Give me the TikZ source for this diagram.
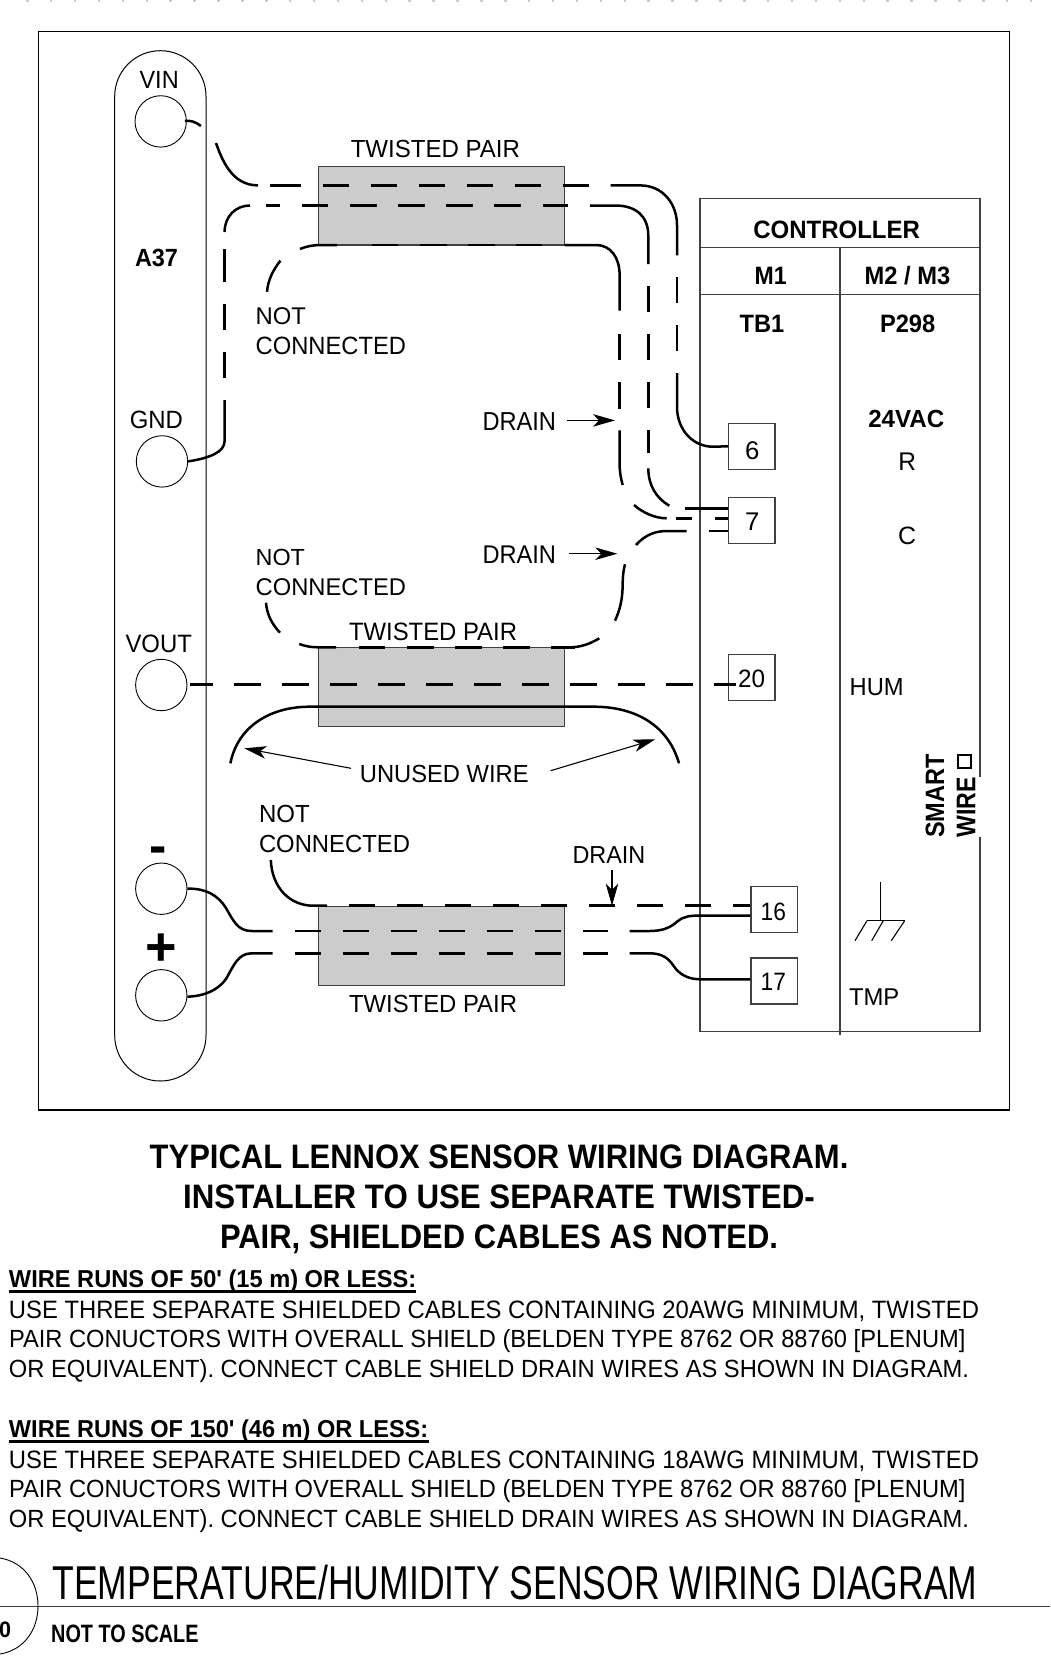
\documentclass[tikz,border=0pt]{standalone}
\usepackage{fontspec}
\usepackage{graphicx}
\setmainfont{Liberation Sans}
\newfontfamily\nomap{Liberation Sans}
\usetikzlibrary{arrows.meta}
\definecolor{linegray}{HTML}{404040}
\definecolor{shield}{HTML}{CCCCCC}
\tikzset{
  x=1pt,y=-1pt,
  frameline/.style={draw=black,line width=1.1pt},
  tableline/.style={draw=linegray,line width=1.3pt},
  shieldbox/.style={draw=linegray,line width=1.3pt,fill=shield,inner sep=0pt,minimum width=246.5pt,minimum height=78.6pt},
  termbox/.style={draw=linegray,line width=1.1pt,inner sep=0pt,minimum width=46.3pt,minimum height=46pt},
  pin/.style={circle,draw=black,line width=0.9pt,inner sep=0pt,minimum size=51.4pt},
  wire/.style={draw=black,line width=2.5pt},
  dashrun/.style={wire,dash pattern=on 26.4pt off 21.7pt},
  pointer/.style={draw=black,line width=1.1pt,-{Stealth[length=22pt,width=12.5pt,inset=6pt]}},
  txt/.style={anchor=base west,inner sep=0pt,outer sep=0pt,text=black},
}
% name, x, baseline y, width, cap height, text (side bearings compensated)
\newcommand{\lab}[7][]{\node[txt,#1] (#2) at ({#3-1},#4) {\resizebox{\dimexpr #5pt+2pt\relax}{#6pt}{\raisebox{0pt}[14.32pt][0pt]{\fontsize{20}{20}\selectfont #7}}};}
\begin{document}
\begin{tikzpicture}
\useasboundingbox (0,0) rectangle (1050,1671);
\fill[white] (0,0) rectangle (1050,1671);
% margin ticks
\draw[draw=shield,line width=2pt,dash pattern=on 2.5pt off 21.4pt] (26,1) -- (1050,1);
% frame
\node[frameline,inner sep=0pt,minimum width=971pt,minimum height=1078.6pt] (frame) at (523.9,570.7) {};
% sensor body
\node[draw=black,line width=1pt,rounded corners=45.6pt,inner sep=0pt,minimum width=91.3pt,minimum height=1030.3pt] (body) at (160.35,565.85) {};
% pins
\node[pin] (vin) at (160.7,121.4) {};
\node[pin] (gnd) at (162,461.4) {};
\node[pin] (vout) at (161.3,685) {};
\node[pin] (minus) at (161.3,888.7) {};
\node[pin] (plus) at (161.3,995.3) {};
% shields
\node[shieldbox] (cableA) at (441.5,205.7) {};
\node[shieldbox] (cableB) at (441.5,686.9) {};
\node[shieldbox] (cableC) at (441.5,946) {};
% controller table
\draw[tableline] (700,198.3) -- (980,198.3);
\draw[tableline] (700,247.7) -- (980,247.7);
\draw[tableline] (700,294.3) -- (980,294.3);
\draw[tableline] (700,1031.7) -- (980,1031.7);
\draw[tableline] (700,198.3) -- (700,1031.7);
\draw[tableline] (840,247.7) -- (840,1035);
\draw[tableline] (980,198.3) -- (980,776.7);
\draw[tableline] (980,836.7) -- (980,1031.7);
% terminals
\node[termbox] (t6) at (751.85,446.3) {};
\node[termbox] (t7) at (751.85,520.7) {};
\node[termbox] (t20) at (751.85,677.7) {};
\node[termbox] (t16) at (774.15,909.7) {};
\node[termbox] (t17) at (774.15,981) {};
% wire VIN to 6
\draw[wire] (vin.east) ++(-2,-0.5) .. controls (190,120) and (196,122) .. (200.9,126);
\draw[wire] (216,143) .. controls (222,160) and (232,185.4) .. (258,185.4);
\draw[wire] (269.6,185.4) -- (301,185.4);
\draw[dashrun] (322.5,185.4) -- (589.3,185.4);
\draw[wire] (610.7,185.4) -- (640,185.4) .. controls (664,185.4) and (677,205) .. (677,225) -- (677,255.4);
\draw[dashrun] (677,276.8) -- (677,352);
\draw[wire] (677,373.2) -- (677,406.7) .. controls (677,430) and (693,446.7) .. (713,446.7) -- (t6.west);
% wire GND to 7
\draw[wire] (gnd.east) .. controls (210,458) and (224.6,452) .. (224.6,441) -- (224.6,400);
\draw[dashrun] (224.6,304) -- (224.6,378);
\draw[wire] (224.6,282) -- (224.6,249.3);
\draw[wire] (224.6,232) .. controls (224.6,216) and (236,205.5) .. (250,205.5);
\draw[wire] (265.6,205.5) -- (280,205.5);
\draw[dashrun] (302,205.5) -- (568,205.5);
\draw[wire] (590,205.5) -- (615,205.5) .. controls (636,205.5) and (648.3,216) .. (648.3,236) -- (648.3,264);
\draw[dashrun] (648.3,285.7) -- (648.3,409);
\draw[wire] (648.3,430) -- (648.3,452.7);
\draw[wire] (648.3,468.3) .. controls (648.3,485) and (656,498) .. (669.3,505.7);
\draw[wire] (685,508.3) -- (t7.west |- 0,508.3);
% drain 1
\draw[wire] (267,291.8) .. controls (268,280) and (273,270) .. (280.4,260.7);
\draw[wire] (300,249) .. controls (306,246.5) and (313,245) .. (320.5,245) -- (337,245);
\draw[dashrun] (372,245) -- (542,245);
\draw[wire] (564.7,245) -- (596,245) .. controls (611,245) and (619.6,258) .. (619.6,275) -- (619.6,310.7);
\draw[dashrun] (619.6,334) -- (619.6,409);
\draw[wire] (619.6,430.4) -- (619.6,464) .. controls (619.6,472) and (621,479) .. (622.7,485);
\draw[wire] (634,505) .. controls (642,512) and (654,518.3) .. (666.7,518.3);
\draw[wire] (675.7,518.3) -- (691.7,518.3);
\draw[wire] (715,518.3) -- (t7.west |- 0,518.3);
% drain 2
\draw[wire] (636,545) .. controls (645,535) and (655,531) .. (667,531) -- (686.7,531);
\draw[wire] (709,531) -- (t7.west |- 0,531);
\draw[wire] (625,564.3) .. controls (622,575) and (623,585) .. (622.3,593) .. controls (621.5,603) and (619,612) .. (615,620.7);
\draw[wire] (599.3,638.3) .. controls (590,644) and (580,647.3) .. (570,647.3);
\draw[dashrun] (359,647.3) -- (575,647.3);
\draw[wire] (299.3,644) .. controls (306,646.5) and (312,647.3) .. (318.3,647.3) -- (336,647.3);
\draw[wire] (266,602.7) .. controls (267,615) and (272,624) .. (280,632.7);
% VOUT to 20
\draw[wire] (190,684.3) -- (212.6,684.3);
\draw[dashrun,dash pattern=on 26.5pt off 21.5pt] (234.4,684.3) -- (736,684.3);
% unused wire
\draw[wire] (230.4,763.3) .. controls (238,725) and (272,706.7) .. (309.5,706.7) -- (594,706.7) .. controls (635,706.7) and (668,725) .. (679,763.3);
% drain 3
\draw[wire] (270.8,860) .. controls (272,888) and (290,905.7) .. (313.4,905.7) -- (327,905.7);
\draw[dashrun,dash pattern=on 25.7pt off 22.3pt] (349,905.7) -- (710.7,905.7);
\draw[wire] (733,905.7) -- (t16.west |- 0,905.7);
% minus to 16
\draw[wire] (minus.east) .. controls (205,888) and (218,895) .. (226,908) .. controls (234,922) and (238,931) .. (252,931) -- (272.7,931);
\draw[dashrun,dash pattern=on 26pt off 22pt] (294.5,931) -- (608,931);
\draw[wire] (629.6,931) -- (649.4,931) .. controls (662,931) and (670,928) .. (677,921.7) .. controls (684,916) and (690,915.6) .. (700.8,915.6) -- (t16.west |- 0,915.6);
% plus to 17
\draw[wire] (plus.east) ++(0,1.4) .. controls (205,996) and (218,990) .. (226,979) .. controls (234,965) and (238,953.3) .. (252,953.3) -- (272.7,953.3);
\draw[dashrun,dash pattern=on 26pt off 22pt] (294.5,953.3) -- (608,953.3);
\draw[wire] (629.6,953.3) -- (649.4,953.3) .. controls (662,953.3) and (668,958) .. (673,965) .. controls (680,976) and (690,979.3) .. (700.8,979.3) -- (t17.west |- 0,979.3);
% ground symbol
\coordinate (gtop) at (880.3,882.3);
\coordinate (gmid) at (880.3,920.7);
\draw[draw=black,line width=1.1pt] (gtop) -- (gmid);
\draw[draw=black,line width=1.1pt] (867,920.7) -- (904.7,920.7);
\draw[draw=black,line width=1.1pt] (867,920.7) -- (855,940.7);
\draw[draw=black,line width=1.1pt] (883.3,920.7) -- (871.7,940.7);
\draw[draw=black,line width=1.1pt] (904.7,920.7) -- (891.3,940.7);
% labels
\lab{lvin}{140.6}{88.2}{37.1}{17.8}{VIN}
\lab{la37}{136}{266.8}{41}{17.8}{\bfseries A37}
\lab{ltpa}{351.8}{157}{167.2}{17.7}{TWISTED PAIR}
\lab{lnota}{256.7}{324.3}{48.3}{17.3}{NOT}
\lab{lcona}{256.7}{354.3}{148.3}{17.9}{CONNECTED}
\lab{lgnd}{130.8}{428.6}{51.2}{17.9}{GND}
\lab{ldra}{483.5}{430.4}{71.5}{18.6}{DRAIN}
\lab{lnotb}{256.7}{565}{47.3}{16.7}{NOT}
\lab{lconb}{256.7}{595}{148.3}{17.3}{CONNECTED}
\lab{ldrb}{483.5}{563.3}{71.5}{18.3}{DRAIN}
\lab{ltpb}{350}{640}{166}{18}{TWISTED PAIR}
\lab{lvout}{126.5}{652.3}{64.5}{18}{VOUT}
\lab{lunused}{360.9}{782.7}{166.8}{17.7}{UNUSED WIRE}
\lab{lnotc}{260}{822.7}{48.7}{17.7}{NOT}
\lab{lconc}{260}{852.7}{149}{17.7}{CONNECTED}
\lab{ldrc}{573.5}{863.3}{70.8}{17.6}{DRAIN}
\lab{ltpc}{350}{1012.7}{166}{17.7}{TWISTED PAIR}
\node[anchor=base,inner sep=0pt,font=\fontsize{52}{52}\selectfont\bfseries] (lminus) at (158,863.5) {-};
\node[anchor=base,inner sep=0pt,font=\fontsize{54}{54}\selectfont\bfseries] (lplus) at (160.8,965) {+};
\lab{ln6}{746}{459.3}{12.3}{18.3}{6}
\lab{ln7}{746}{530}{12.3}{18.3}{7}
\lab{ln20}{739}{687.3}{25}{18}{20}
\lab{ln16}{761.7}{920.3}{23.3}{18}{16}
\lab{ln17}{761.7}{990.7}{23.3}{18}{17}
\lab{lctrl}{754.3}{238.7}{164.7}{18}{\bfseries CONTROLLER}
\lab{lmone}{755.7}{284.7}{30}{18}{\bfseries M1}
\lab{lmtwo}{865.7}{284.7}{83.6}{18}{\bfseries M2 / M3}
\lab{ltb}{740.7}{332.3}{42.6}{18}{\bfseries TB1}
\lab{lp}{881}{332.3}{53.3}{18}{\bfseries P298}
\lab{lvac}{869.3}{427.7}{74}{17.7}{\bfseries 24VAC}
\lab{lr}{899.3}{470}{15.7}{18.3}{R}
\lab{lc}{899}{544}{16}{18}{C}
\lab{lhum}{850.7}{695}{52}{17.7}{HUM}
\lab{ltmp}{850}{1005.7}{48.3}{17.4}{TMP}
\lab[rotate=90]{lsmart}{945}{837.7}{81.7}{19}{\bfseries SMART}
\lab[rotate=90]{lwire}{976.3}{837.7}{58.4}{19.3}{\bfseries WIRE}
\node[draw=black,line width=2pt,inner sep=0pt,minimum width=13.4pt,minimum height=12.8pt] (smartbox) at (964.2,761.2) {};
% pointers
\coordinate (pa) at (566.7,420.4); \coordinate (pb) at (615,420.4);
\draw[pointer] (pa) -- (pb);
\coordinate (pc) at (569,553.7); \coordinate (pd) at (617.3,553.7);
\draw[pointer] (pc) -- (pd);
\coordinate (pe) at (351,768.3); \coordinate (pf) at (244.3,748.3);
\draw[pointer] (pe) -- (pf);
\coordinate (pg) at (550.6,770.7); \coordinate (ph) at (655.3,739.3);
\draw[pointer] (pg) -- (ph);
\coordinate (pi) at (612,870); \coordinate (pj) at (612,905.7);
\draw[pointer] (pi) -- (pj);
% notes
\lab{ttla}{150.7}{1168.3}{696.6}{24.3}{\bfseries TYPICAL LENNOX SENSOR WIRING DIAGRAM.}
\lab{ttlb}{184.2}{1208.3}{629.6}{24.3}{\bfseries INSTALLER TO USE SEPARATE TWISTED-}
\lab{ttlc}{221}{1248.3}{556}{24.3}{\bfseries PAIR, SHIELDED CABLES AS NOTED.}
\lab{hda}{10}{1287.3}{405.3}{17.5}{\nomap\bfseries WIRE RUNS OF 50' (15 m) OR LESS:}
\coordinate (ula) at (8.7,1291.6); \coordinate (ulb) at (416,1291.6);
\draw[draw=black,line width=3pt] (ula) -- (ulb);
\lab{para}{10}{1318}{968}{18}{USE THREE SEPARATE SHIELDED CABLES CONTAINING 20AWG MINIMUM, TWISTED}
\lab{parb}{10}{1347.5}{954.5}{17.8}{PAIR CONUCTORS WITH OVERALL SHIELD (BELDEN TYPE 8762 OR 88760 [PLENUM]}
\lab{parc}{10}{1377.5}{958}{17.8}{OR EQUIVALENT). CONNECT CABLE SHIELD DRAIN WIRES AS SHOWN IN DIAGRAM.}
\lab{hdb}{10}{1437.3}{417.3}{17.5}{\nomap\bfseries WIRE RUNS OF 150' (46 m) OR LESS:}
\coordinate (ulc) at (8.7,1441.8); \coordinate (uld) at (428.7,1441.8);
\draw[draw=black,line width=3pt] (ulc) -- (uld);
\lab{pard}{10}{1468}{968}{18}{USE THREE SEPARATE SHIELDED CABLES CONTAINING 18AWG MINIMUM, TWISTED}
\lab{pare}{10}{1497.5}{954.5}{17.8}{PAIR CONUCTORS WITH OVERALL SHIELD (BELDEN TYPE 8762 OR 88760 [PLENUM]}
\lab{parf}{10}{1527.5}{958}{17.8}{OR EQUIVALENT). CONNECT CABLE SHIELD DRAIN WIRES AS SHOWN IN DIAGRAM.}
% title block
\lab{tbig}{53.6}{1599}{922.9}{34}{TEMPERATURE/HUMIDITY SENSOR WIRING DIAGRAM}
\coordinate (ruleL) at (0,1606.7); \coordinate (ruleR) at (1050,1606.7);
\draw[tableline] (ruleL) -- (ruleR);
\lab{tscale}{52.2}{1642.3}{145.4}{18}{\bfseries NOT TO SCALE}
\coordinate (bubA) at (0,1558); \coordinate (bubB) at (38,1606); \coordinate (bubC) at (0,1654);
\draw[draw=black,line width=0.9pt] (bubA) .. controls (24,1562) and (38,1582) .. (bubB) .. controls (38,1630) and (24,1650) .. (bubC);
\lab{tnum}{0}{1637.7}{10}{16}{\bfseries 0}
\end{tikzpicture}
\end{document}
